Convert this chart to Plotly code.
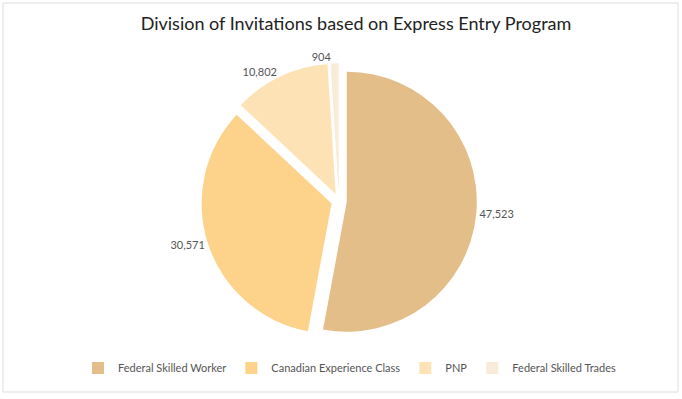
import plotly.graph_objects as go

programs = ["Federal Skilled Worker", "Canadian Experience Class", "PNP", "Federal Skilled Trades"]
invitations = [47523, 30571, 10802, 904]
slice_colors = ["#e3be88", "#fdd28a", "#fde2b5", "#f8ebd8"]
slice_pull = [0.06, 0.06, 0.06, 0.06]

W, H = 682, 399
R = 130
cx, cy = 339, 201
half = R * (1 + max(slice_pull))

fig = go.Figure(go.Pie(
    labels=programs,
    values=invitations,
    sort=False,
    direction="clockwise",
    rotation=0,
    pull=slice_pull,
    marker=dict(colors=slice_colors, line=dict(width=0)),
    textinfo="value",
    texttemplate="%{value:,}",
    textposition="outside",
    outsidetextfont=dict(family="Lato", size=11, color="#555555"),
    hoverinfo="label+value",
    domain=dict(x=[(cx - half) / W, (cx + half) / W],
                y=[(H - cy - half) / H, (H - cy + half) / H]),
))

fig.update_layout(
    width=W, height=H,
    margin=dict(l=0, r=0, t=0, b=0),
    paper_bgcolor="white",
    font=dict(family="Lato", color="#555555", size=11),
    title=dict(text="Division of Invitations based on Express Entry Program",
               x=356 / W, xanchor="center", y=1 - 24 / H, yanchor="middle",
               font=dict(family="Lato", size=18, color="#222222")),
    showlegend=True,
    legend=dict(orientation="h", x=350 / W, xanchor="center", y=(H - 368) / H, yanchor="middle",
                font=dict(family="Lato", size=11, color="#555555"),
                itemwidth=30, tracegroupgap=0),
    shapes=[dict(type="rect", xref="paper", yref="paper",
                 x0=3 / W, x1=678 / W, y0=(H - 392) / H, y1=(H - 3) / H,
                 line=dict(color="#dddddd", width=1))],
)

fig.write_html("out.html",
               config={"displayModeBar": False},
               post_script="document.body.style.margin='0';document.body.style.overflow='hidden';")
